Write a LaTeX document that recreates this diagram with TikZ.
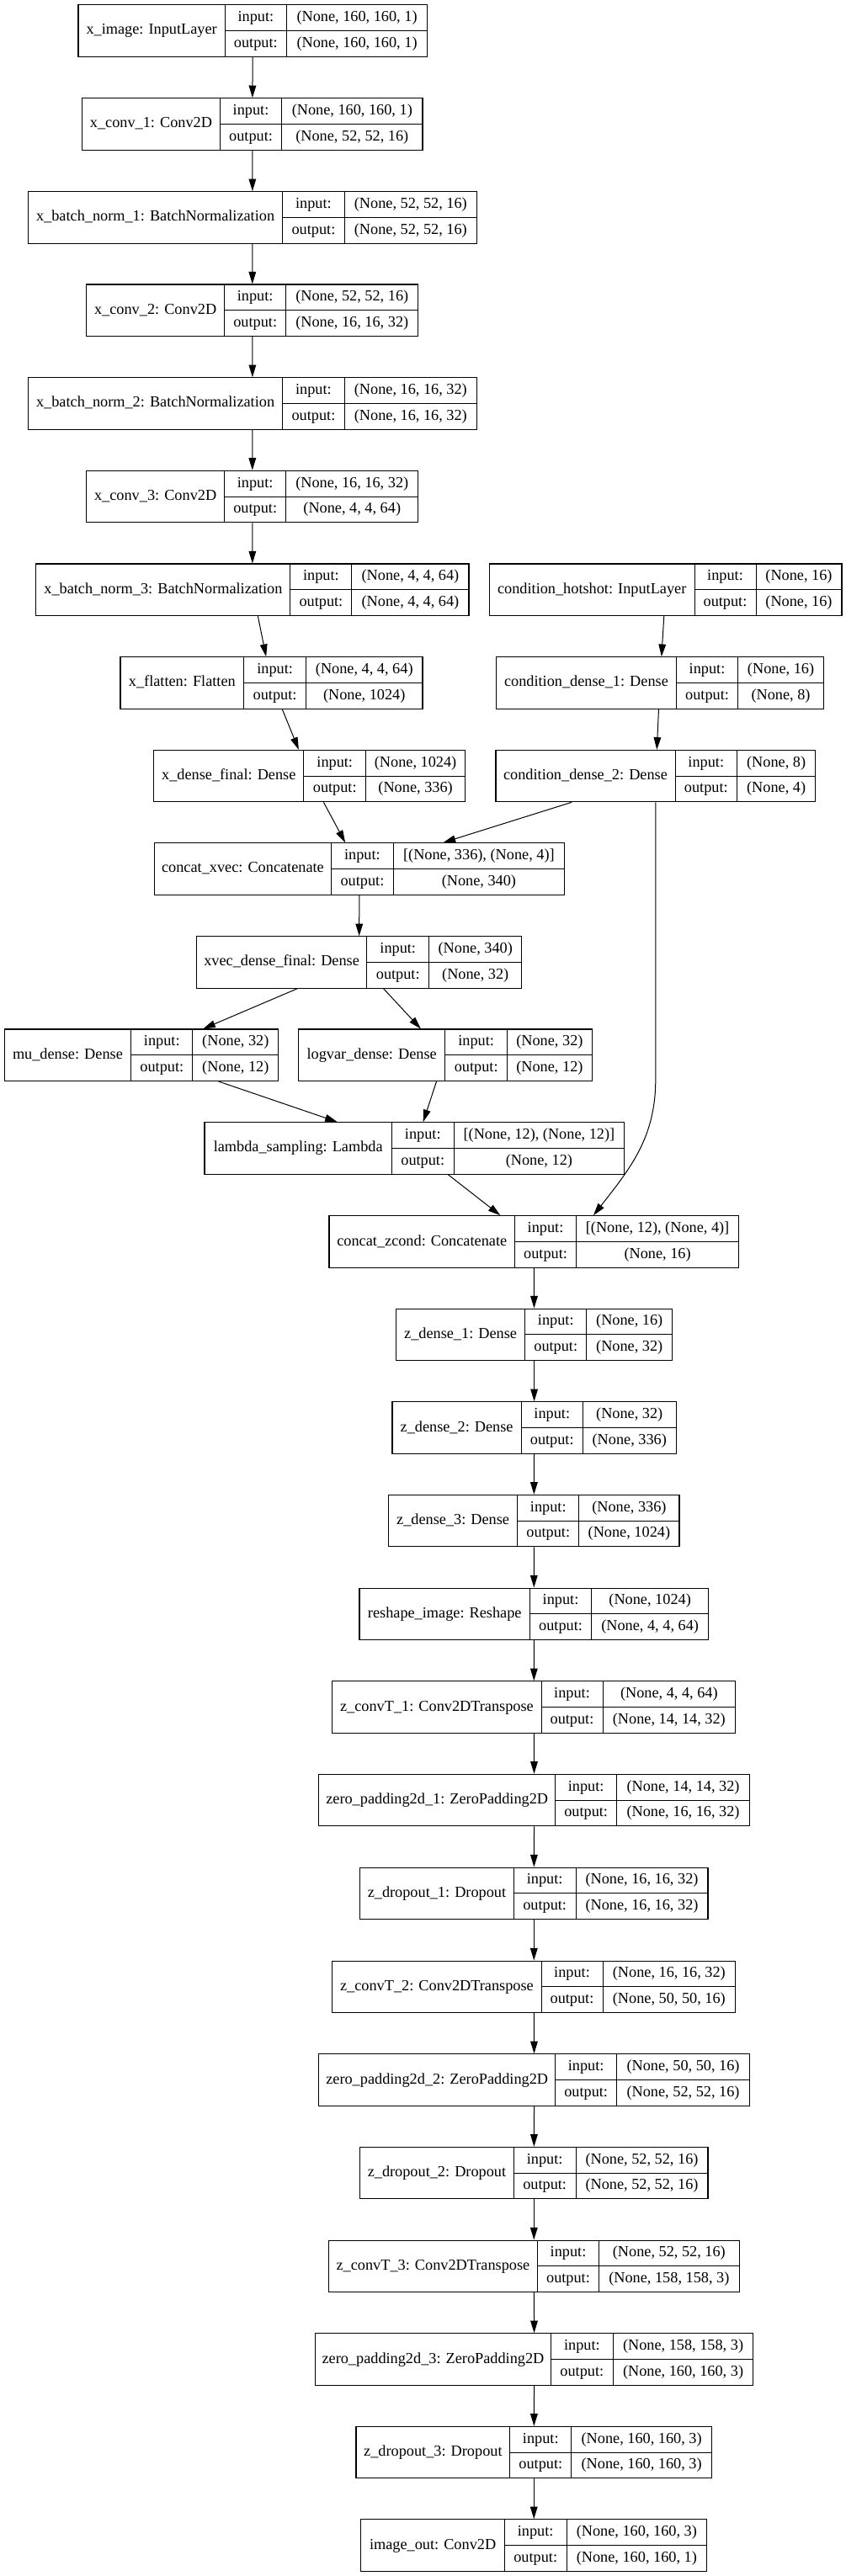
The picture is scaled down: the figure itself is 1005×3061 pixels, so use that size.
\documentclass[tikz,border=0pt]{standalone}
\usepackage{fontspec}
\setmainfont{Liberation Serif}
\usepackage{tikz}
\usetikzlibrary{arrows.meta}

% one layer record: name | input:/output: | shapes
% #1 node, #2 left, #3 first rule, #4 second rule, #5 right, #6 top
% #7 layer text, #8 input shape, #9 output shape
\newcommand{\layer}[9]{%
  \node[layerbox, minimum width={(#5-#2)*0.75pt}] (#1) at ({(#2+#5)/2},{#6+30.75}) {};
  \draw[cellrule] (#3,#6) -- (#3,#6+61.5) (#4,#6) -- (#4,#6+61.5)
    (#3,#6+30.75) -- (#5,#6+30.75);
  \node[txt] (#1-n) at ({(#2+#3)/2},{#6+30.75}) {#7};
  \node[txt] (#1-i) at ({(#3+#4)/2},{#6+15.4}) {input:};
  \node[txt] (#1-o) at ({(#3+#4)/2},{#6+46.1}) {output:};
  \node[txt] (#1-a) at ({(#4+#5)/2},{#6+15.4}) {#8};
  \node[txt] (#1-b) at ({(#4+#5)/2},{#6+46.1}) {#9};
}

\begin{document}
\begin{tikzpicture}[
  x=0.75pt, y=-0.75pt,
  font=\fontsize{13.7pt}{16pt}\selectfont,
  layerbox/.style={draw=black, line width=0.8pt, minimum height=46.1pt, inner sep=0pt},
  cellrule/.style={draw=black, line width=0.75pt},
  txt/.style={inner sep=0pt, text height=9.3pt, text depth=2.5pt},
  arr/.style={-{Triangle[length=11pt, width=6.5pt]}, draw=black, line width=0.75pt}
]
\path[fill=white] (0,0) rectangle (1005,3061);

% image branch
\layer{ximg}{93}{267.3}{340.4}{507.7}{5.7}{x\_image: InputLayer}{(None, 160, 160, 1)}{(None, 160, 160, 1)}
\layer{xconv1}{97.4}{261.5}{334.6}{502}{116.7}{x\_conv\_1: Conv2D}{(None, 160, 160, 1)}{(None, 52, 52, 16)}
\layer{xbn1}{33.3}{335.9}{409}{566.7}{227.7}{x\_batch\_norm\_1: BatchNormalization}{(None, 52, 52, 16)}{(None, 52, 52, 16)}
\layer{xconv2}{102.6}{266.7}{339.7}{496.8}{338}{x\_conv\_2: Conv2D}{(None, 52, 52, 16)}{(None, 16, 16, 32)}
\layer{xbn2}{33.3}{335.9}{409}{566.7}{448.7}{x\_batch\_norm\_2: BatchNormalization}{(None, 16, 16, 32)}{(None, 16, 16, 32)}
\layer{xconv3}{102.6}{266.7}{339.7}{496.8}{559.3}{x\_conv\_3: Conv2D}{(None, 16, 16, 32)}{(None, 4, 4, 64)}
\layer{xbn3}{42.9}{344.9}{417.9}{557}{670}{x\_batch\_norm\_3: BatchNormalization}{(None, 4, 4, 64)}{(None, 4, 4, 64)}
\layer{xflat}{143}{289.7}{363.5}{502}{780.7}{x\_flatten: Flatten}{(None, 4, 4, 64)}{(None, 1024)}
\layer{xdense}{182.7}{360.9}{434.6}{552.6}{891.3}{x\_dense\_final: Dense}{(None, 1024)}{(None, 336)}

% condition branch
\layer{cin}{581.4}{825}{898}{1000}{670}{condition\_hotshot: InputLayer}{(None, 16)}{(None, 16)}
\layer{cdense1}{589.7}{803.2}{876.9}{978.2}{780.7}{condition\_dense\_1: Dense}{(None, 16)}{(None, 8)}
\layer{cdense2}{589}{802}{875.6}{968.6}{891.3}{condition\_dense\_2: Dense}{(None, 8)}{(None, 4)}

% latent
\layer{xcat}{183.3}{393.6}{467.3}{670.5}{1001.7}{concat\_xvec: Concatenate}{[(None, 336), (None, 4)]}{(None, 340)}
\layer{xvec}{233.3}{435.9}{509.6}{619.9}{1112.7}{xvec\_dense\_final: Dense}{(None, 340)}{(None, 32)}
\layer{mu}{5.1}{155.8}{228.8}{330.8}{1223}{mu\_dense: Dense}{(None, 32)}{(None, 12)}
\layer{logvar}{354.5}{528.8}{602.6}{703.2}{1223}{logvar\_dense: Dense}{(None, 32)}{(None, 12)}
\layer{samp}{243}{465.4}{539.1}{741.7}{1333.7}{lambda\_sampling: Lambda}{[(None, 12), (None, 12)]}{(None, 12)}
\layer{zcat}{391}{611.5}{684.6}{877.6}{1444.7}{concat\_zcond: Concatenate}{[(None, 12), (None, 4)]}{(None, 16)}

% decoder
\layer{zd1}{470.5}{623.7}{696.8}{798.7}{1555}{z\_dense\_1: Dense}{(None, 16)}{(None, 32)}
\layer{zd2}{466}{619.2}{692.3}{803.2}{1665.7}{z\_dense\_2: Dense}{(None, 32)}{(None, 336)}
\layer{zd3}{461.5}{614.7}{687.8}{807}{1776.3}{z\_dense\_3: Dense}{(None, 336)}{(None, 1024)}
\layer{resh}{427}{629.5}{702.6}{841.7}{1887}{reshape\_image: Reshape}{(None, 1024)}{(None, 4, 4, 64)}
\layer{zct1}{394.9}{643}{716}{873.7}{1997.7}{z\_convT\_1: Conv2DTranspose}{(None, 4, 4, 64)}{(None, 14, 14, 32)}
\layer{zpad1}{378.8}{659.6}{732.7}{890.4}{2108.3}{zero\_padding2d\_1: ZeroPadding2D}{(None, 14, 14, 32)}{(None, 16, 16, 32)}
\layer{zdrop1}{427.6}{610.3}{684}{841}{2219}{z\_dropout\_1: Dropout}{(None, 16, 16, 32)}{(None, 16, 16, 32)}
\layer{zct2}{394.9}{643}{716}{873.7}{2330}{z\_convT\_2: Conv2DTranspose}{(None, 16, 16, 32)}{(None, 50, 50, 16)}
\layer{zpad2}{378.8}{659.6}{732.7}{890.4}{2440.7}{zero\_padding2d\_2: ZeroPadding2D}{(None, 50, 50, 16)}{(None, 52, 52, 16)}
\layer{zdrop2}{427.6}{610.3}{684}{841}{2551.3}{z\_dropout\_2: Dropout}{(None, 52, 52, 16)}{(None, 52, 52, 16)}
\layer{zct3}{390.4}{638.5}{711.5}{878.2}{2662}{z\_convT\_3: Conv2DTranspose}{(None, 52, 52, 16)}{(None, 158, 158, 3)}
\layer{zpad3}{374.4}{654.5}{728.2}{894.9}{2772.7}{zero\_padding2d\_3: ZeroPadding2D}{(None, 158, 158, 3)}{(None, 160, 160, 3)}
\layer{zdrop3}{423}{605.8}{678.8}{845.5}{2883.3}{z\_dropout\_3: Dropout}{(None, 160, 160, 3)}{(None, 160, 160, 3)}
\layer{imgout}{428.8}{599.4}{673}{839.7}{2993.7}{image\_out: Conv2D}{(None, 160, 160, 3)}{(None, 160, 160, 1)}

\draw[arr] (ximg) -- (xconv1);
\draw[arr] (xconv1) -- (xbn1);
\draw[arr] (xbn1) -- (xconv2);
\draw[arr] (xconv2) -- (xbn2);
\draw[arr] (xbn2) -- (xconv3);
\draw[arr] (xconv3) -- (xbn3);
\draw[arr] (xbn3) -- (xflat);
\draw[arr] (xflat) -- (xdense);
\draw[arr] (xdense) -- (xcat);
\draw[arr] (cin) -- (cdense1);
\draw[arr] (cdense1) -- (cdense2);
\draw[arr] (cdense2) -- (xcat);
\draw[arr] (xcat) -- (xvec);
\draw[arr] (xvec) -- (mu);
\draw[arr] (xvec) -- (logvar);
\draw[arr] (mu) -- (samp);
\draw[arr] (logvar) -- (samp);
\draw[arr] (samp) -- (zcat);
\coordinate (zin) at ([xshift=53pt]zcat.north);
\draw[arr] (cdense2.south) -- ++(0,330) to[out=-90, in=52] (zin);
\draw[arr] (zcat) -- (zd1);
\draw[arr] (zd1) -- (zd2);
\draw[arr] (zd2) -- (zd3);
\draw[arr] (zd3) -- (resh);
\draw[arr] (resh) -- (zct1);
\draw[arr] (zct1) -- (zpad1);
\draw[arr] (zpad1) -- (zdrop1);
\draw[arr] (zdrop1) -- (zct2);
\draw[arr] (zct2) -- (zpad2);
\draw[arr] (zpad2) -- (zdrop2);
\draw[arr] (zdrop2) -- (zct3);
\draw[arr] (zct3) -- (zpad3);
\draw[arr] (zpad3) -- (zdrop3);
\draw[arr] (zdrop3) -- (imgout);
\end{tikzpicture}
\end{document}
